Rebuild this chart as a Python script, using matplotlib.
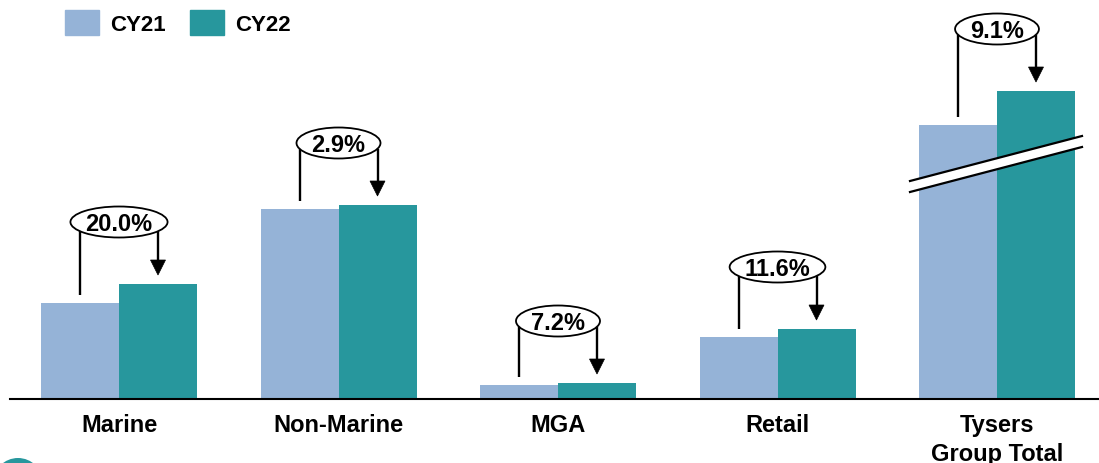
import matplotlib
matplotlib.use("Agg")
import matplotlib.pyplot as plt
from matplotlib.patches import Ellipse, Polygon, Patch
import numpy as np

# ---- data -------------------------------------------------------------
categories = ["Marine", "Non-Marine", "MGA", "Retail", "Tysers\nGroup Total"]
cy21 = [96, 190, 14, 62, 274]
cy22 = [115, 194, 16, 70, 308]
growth_labels = ["20.0%", "2.9%", "7.2%", "11.6%", "9.1%"]
series_names = ["CY21", "CY22"]

# ---- style ------------------------------------------------------------
C21 = "#95B3D7"
C22 = "#27979D"
plt.rcParams["font.family"] = ["Liberation Sans", "DejaVu Sans"]

W, H, DPI = 1099, 464, 100
fig = plt.figure(figsize=(W / DPI, H / DPI), dpi=DPI)

GROUP_PX = 219.5          # horizontal pixels per category
AX_L, AX_R, BASE = 10, 1099, 400
ax = fig.add_axes([AX_L / W, (H - BASE) / H, (AX_R - AX_L) / W, BASE / H])
x_start = -(119 - AX_L) / GROUP_PX
ax.set_xlim(x_start, x_start + (AX_R - AX_L) / GROUP_PX)
ax.set_ylim(0, BASE)


def px(v):
    """horizontal pixel length -> x data units"""
    return v / GROUP_PX


x = np.arange(len(categories))
bw = px(78)
ax.bar(x - bw / 2, cy21, bw, color=C21, zorder=2)
ax.bar(x + bw / 2, cy22, bw, color=C22, zorder=2)

for s in ["top", "right", "left"]:
    ax.spines[s].set_visible(False)
ax.spines["bottom"].set_linewidth(1.5)
ax.spines["bottom"].set_zorder(4)
ax.set_xticks([])
ax.set_yticks([])

# category labels under the axis, one text per line
LINE_STEP = 29
for i, cat in enumerate(categories):
    for k, line in enumerate(cat.split("\n")):
        ax.text(i, -32 - k * LINE_STEP, line, ha="center", va="baseline",
                fontsize=17, fontweight="bold", clip_on=False)

# axis break on the group total
gx = len(categories) - 1
bx0, bx1 = gx + px(910 - 997), gx + px(1082 - 997)
up0, up1, lo0, lo1 = 218, 263, 207, 252
ax.add_patch(Polygon([(bx0, lo0), (bx1, lo1), (bx1, up1), (bx0, up0)],
                     closed=True, fc="white", ec="none", zorder=3))
ax.plot([bx0, bx1], [up0, up1], color="black", lw=1.6, zorder=3)
ax.plot([bx0, bx1], [lo0, lo1], color="black", lw=1.6, zorder=3)

# growth call-outs
fig.canvas.draw()
renderer = fig.canvas.get_renderer()
EH = 31        # ellipse height
LW = 1.7
for i, lab in enumerate(growth_labels):
    ey = cy22[i] + 62
    t = ax.text(i, ey - 8.5, lab, ha="center", va="baseline", fontsize=17,
                fontweight="bold", zorder=6)
    tw = t.get_window_extent(renderer).width
    ew = max(79, tw + 30)
    ax.add_patch(Ellipse((i, ey), px(ew), EH, fc="white", ec="black",
                         lw=1.3, zorder=5))
    a = ew / 2

    def rim(xd):
        dx = abs(xd - i) * GROUP_PX
        if dx >= a:
            return ey
        return ey - (EH / 2) * np.sqrt(1 - (dx / a) ** 2)

    xl, xr = i - bw / 2, i + bw / 2
    ax.plot([xl, xl], [cy21[i] + 8, rim(xl)], color="black", lw=LW,
            solid_capstyle="butt", zorder=4)
    tip = cy22[i] + 9
    ax.plot([xr, xr], [rim(xr), tip + 14], color="black", lw=LW,
            solid_capstyle="butt", zorder=4)
    ax.add_patch(Polygon([(xr - px(7.5), tip + 15), (xr + px(7.5), tip + 15),
                          (xr, tip)], closed=True, fc="black", ec="black",
                         lw=0.5, zorder=4))

# legend
handles = [Patch(color=C21), Patch(color=C22)]
fig.legend(handles, series_names, loc="upper left",
           bbox_to_anchor=(65 / W, 1 - 11 / H), ncol=2, frameon=False,
           prop={"size": 16, "weight": "bold"}, handlelength=1.53,
           handleheight=1.33, handletextpad=0.5, columnspacing=1.1,
           borderpad=0, borderaxespad=0)

# corner badge
fig.patches.append(Ellipse((18 / W, 1 - 484 / H), 50 / W, 50 / H,
                           transform=fig.transFigure, fc=C22, ec="none"))

fig.savefig("out.png", dpi=DPI)
